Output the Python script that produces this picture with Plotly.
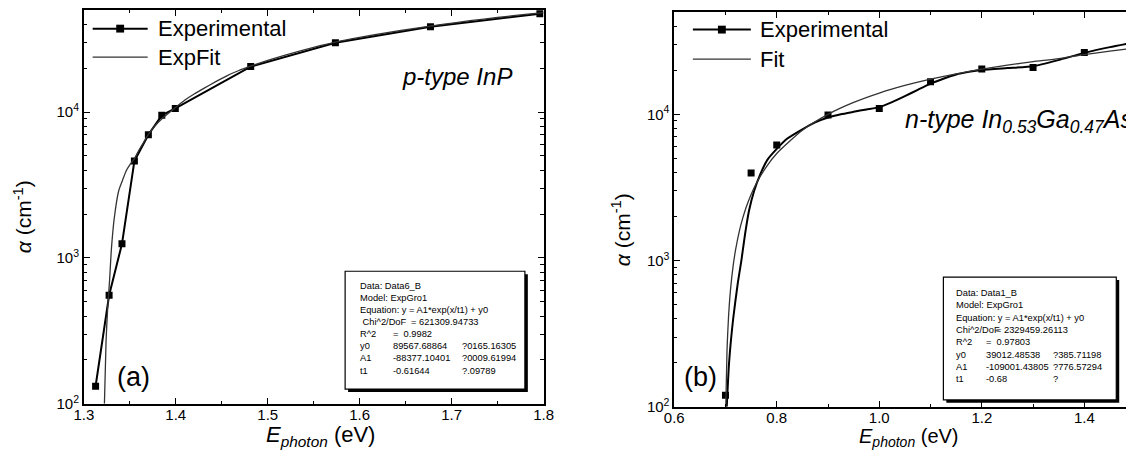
import plotly.graph_objects as go

W, H = 1134, 451
F = "Liberation Sans, Arial, sans-serif"


def px(x):
    return x / W


def py(y):
    return 1 - y / H


# ---------------- data: panel (a) p-type InP ----------------
exp_a_x = [1.3128, 1.3275, 1.3415, 1.3550, 1.3702, 1.3848, 1.3995, 1.4815, 1.5736, 1.6770, 1.7960]
exp_a_y = [132, 555, 1250, 4620, 7000, 9500, 10600, 20500, 29900, 38500, 47300]

fit_a_x = [1.3224, 1.3242, 1.3260, 1.3280, 1.3300, 1.3330, 1.3380, 1.3420, 1.3460, 1.3500,
           1.3550, 1.3600, 1.3650, 1.3700, 1.3770, 1.3850, 1.3920, 1.4000, 1.4100, 1.4200,
           1.4310, 1.4430, 1.4560, 1.4680, 1.4820, 1.5000, 1.5200, 1.5500, 1.5750, 1.6000,
           1.6300, 1.6600, 1.6900, 1.7200, 1.7500, 1.7800, 1.8000]
fit_a_y = [100, 270, 460, 700, 1150, 1850, 2900, 3400, 3950, 4350,
           4800, 5500, 6200, 7000, 8000, 9000, 9800, 10800, 12100, 13300,
           14600, 16100, 17800, 19200, 20700, 22600, 24700, 27800, 30300, 32500,
           35000, 37500, 39900, 42300, 44500, 46700, 48000]

# ---------------- data: panel (b) n-type InGaAs ----------------
exp_b_x = [0.70, 0.75, 0.80, 0.90, 1.00, 1.10, 1.20, 1.30, 1.40]
exp_b_y = [120, 3970, 6160, 9890, 10970, 16700, 20400, 20900, 26500]

exp_b_curve_x = [0.7025, 0.707, 0.715, 0.724, 0.731, 0.738, 0.746, 0.756, 0.768, 0.782,
                 0.800, 0.820, 0.850, 0.875, 0.900, 0.925, 0.950, 0.975,
                 1.000, 1.025, 1.050, 1.075, 1.100, 1.125, 1.150, 1.175, 1.200, 1.250,
                 1.300, 1.350, 1.400, 1.450, 1.493]
exp_b_curve_y = [100, 200, 400, 700, 1000, 1500, 2200, 3000, 3900, 4900,
                 5800, 6800, 7900, 8800, 9500, 10000, 10400, 10800,
                 11200, 12100, 13300, 14700, 16200, 17500, 18700, 19500, 20100, 20700,
                 21300, 23500, 26300, 28800, 30800]

fit_b_x = [0.7006, 0.703, 0.706, 0.710, 0.715, 0.720, 0.730, 0.740, 0.750, 0.760,
           0.780, 0.800, 0.850, 0.900, 0.950, 1.000, 1.050, 1.100, 1.150, 1.200,
           1.250, 1.300, 1.350, 1.400, 1.450, 1.493]
fit_b_y = [100, 245, 416, 643, 923, 1201, 1754, 2298, 2833, 3362,
           4395, 5398, 7783, 9994, 12052, 13966, 15740, 17391, 18925, 20349,
           21669, 22902, 24042, 25600, 27000, 28300]

y_major = [100, 1000, 10000]
y_major_text = ["10<sup>2</sup>", "10<sup>3</sup>", "10<sup>4</sup>"]
y_minor = [200, 300, 400, 500, 600, 700, 800, 900,
           2000, 3000, 4000, 5000, 6000, 7000, 8000, 9000,
           20000, 30000, 40000, 50000]

legend_a = ["Experimental", "ExpFit"]
legend_b = ["Experimental", "Fit"]

info_a_rows = [
    ["Data: Data6_B", "", ""],
    ["Model: ExpGro1", "", ""],
    ["Equation: y = A1*exp(x/t1) + y0", "", ""],
    [" Chi^2/DoF", "= 621309.94733", ""],
    ["R^2", "=  0.9982", ""],
    ["y0", "89567.68864", "?0165.16305"],
    ["A1", "-88377.10401", "?0009.61994"],
    ["t1", "-0.61644", "?.09789"],
]
info_b_rows = [
    ["Data: Data1_B", "", ""],
    ["Model: ExpGro1", "", ""],
    ["Equation: y = A1*exp(x/t1) + y0", "", ""],
    ["Chi^2/DoF", "= 2329459.26113", ""],
    ["R^2", "=  0.97803", ""],
    ["y0", "39012.48538", "?385.71198"],
    ["A1", "-109001.43805", "?776.57294"],
    ["t1", "-0.68", "?"],
]

fig = go.Figure()

# panel (a)
fig.add_trace(go.Scatter(x=exp_a_x, y=exp_a_y, mode="lines+markers", name=legend_a[0],
                         showlegend=False,
                         line=dict(color="black", width=2),
                         marker=dict(symbol="square", size=7, color="black"),
                         xaxis="x", yaxis="y"))
fig.add_trace(go.Scatter(x=fit_a_x, y=fit_a_y, mode="lines", name=legend_a[1], showlegend=False,
                         line=dict(color="#333333", width=1.3, shape="spline", smoothing=0.6),
                         xaxis="x", yaxis="y"))

# panel (b)
fig.add_trace(go.Scatter(x=exp_b_curve_x, y=exp_b_curve_y, mode="lines", showlegend=False,
                         name=legend_b[0],
                         line=dict(color="black", width=2, shape="spline", smoothing=0.5),
                         xaxis="x2", yaxis="y2"))
fig.add_trace(go.Scatter(x=exp_b_x, y=exp_b_y, mode="markers", showlegend=False,
                         name=legend_b[0],
                         marker=dict(symbol="square", size=7, color="black"),
                         xaxis="x2", yaxis="y2"))
fig.add_trace(go.Scatter(x=fit_b_x, y=fit_b_y, mode="lines", name=legend_b[1], showlegend=False,
                         line=dict(color="#333333", width=1.3, shape="spline", smoothing=0.6),
                         xaxis="x2", yaxis="y2"))

common_x = dict(showgrid=False, zeroline=False, showline=True, linecolor="black", linewidth=1.5,
                ticks="inside", ticklen=6, tickwidth=1.3, tickcolor="black",
                tickfont=dict(family=F, size=15, color="black"), tickformat=".1f",
                ticklabelstandoff=-4)
common_y = dict(type="log", showgrid=False, zeroline=False, showline=True, linecolor="black",
                linewidth=1.5, ticks="inside", ticklen=6, tickwidth=1.3, tickcolor="black",
                tickmode="array", tickvals=y_major, ticktext=y_major_text,
                tickfont=dict(family=F, size=15, color="black"),
                minor=dict(tickmode="array", tickvals=y_minor, ticks="inside", ticklen=3.5,
                           tickwidth=1, tickcolor="black"),
                range=[2, 4.70])

fig.update_layout(
    width=W, height=H,
    margin=dict(l=0, r=0, t=0, b=0),
    paper_bgcolor="white", plot_bgcolor="white",
    font=dict(family=F, color="black"),
    showlegend=False,
    xaxis=dict(domain=[px(67), px(535)], anchor="y", range=[1.3, 1.8], tick0=1.3, dtick=0.1,
               mirror="ticks",
               minor=dict(dtick=0.05, ticks="inside", ticklen=3.5, tickwidth=1, tickcolor="black"),
               **common_x),
    yaxis=dict(domain=[py(403), py(2)], anchor="x", mirror="ticks", **common_y),
    xaxis2=dict(domain=[px(668), 1.0], anchor="y2", range=[0.6, 1.493], tick0=0.6, dtick=0.2,
                mirror="ticks",
                minor=dict(dtick=0.1, ticks="inside", ticklen=3.5, tickwidth=1, tickcolor="black"),
                **common_x),
    yaxis2=dict(domain=[py(406), py(4)], anchor="x2", mirror=False, **common_y),
)

ann = []
shapes = []

# axis titles
ann.append(dict(text="<i>E</i><sub><i>photon</i></sub> (eV)", x=px(308), y=py(436),
                xanchor="center", yanchor="middle", font=dict(size=22)))
ann.append(dict(text="<i>E</i><sub><i>photon</i></sub> (eV)", x=px(907), y=py(437),
                xanchor="center", yanchor="middle", font=dict(size=20)))
ann.append(dict(text="<i>α</i> (cm<sup>-1</sup>)", x=px(5), y=py(212), textangle=-90,
                xanchor="center", yanchor="middle", font=dict(size=21)))
ann.append(dict(text="<i>α</i> (cm<sup>-1</sup>)", x=px(614), y=py(226), textangle=-90,
                xanchor="center", yanchor="middle", font=dict(size=21)))
# labels
ann.append(dict(text="<i>p-type InP</i>", x=px(505), y=py(70), xanchor="right", yanchor="middle",
                font=dict(size=24)))
ann.append(dict(text="<i>n-type In<sub>0.53</sub>Ga<sub>0.47</sub>As</i>", x=px(901), y=py(115),
                xanchor="left", yanchor="middle", font=dict(size=25)))
ann.append(dict(text="(a)", x=px(99), y=py(376), xanchor="left", yanchor="middle",
                font=dict(size=27)))
ann.append(dict(text="(b)", x=px(676), y=py(376), xanchor="left", yanchor="middle",
                font=dict(size=27)))


def manual_legend(x0, x1, xt, y1, y2, names, fs):
    # row 1: experimental (thick line + square)
    shapes.append(dict(type="line", xref="paper", yref="paper", x0=px(x0), x1=px(x1),
                       y0=py(y1), y1=py(y1), line=dict(color="black", width=2)))
    xm = (x0 + x1) / 2
    shapes.append(dict(type="rect", xref="paper", yref="paper", x0=px(xm - 4), x1=px(xm + 4),
                       y0=py(y1 + 4), y1=py(y1 - 4), fillcolor="black", line=dict(width=0)))
    # row 2: fit (thin line)
    shapes.append(dict(type="line", xref="paper", yref="paper", x0=px(x0), x1=px(x1),
                       y0=py(y2), y1=py(y2), line=dict(color="#333333", width=1.3)))
    ann.append(dict(text=names[0], x=px(xt), y=py(y1), xanchor="left", yanchor="middle",
                    font=dict(size=fs)))
    ann.append(dict(text=names[1], x=px(xt), y=py(y2), xanchor="left", yanchor="middle",
                    font=dict(size=fs)))


manual_legend(76, 132, 140, 21, 50, legend_a, 22)
manual_legend(687, 746, 753, 22, 52, legend_b, 22)


def info_box(x0, y0, x1, y1, rows, cols, line_y0, dy, special):
    shapes.append(dict(type="rect", xref="paper", yref="paper", x0=px(x0 + 3), x1=px(x1 + 3),
                       y0=py(y1 + 3), y1=py(y0 + 3), fillcolor="black", line=dict(width=0)))
    shapes.append(dict(type="rect", xref="paper", yref="paper", x0=px(x0), x1=px(x1),
                       y0=py(y1), y1=py(y0), fillcolor="white", line=dict(color="black", width=1.2)))
    for i, row in enumerate(rows):
        yy = line_y0 + i * dy
        for j, txt in enumerate(row):
            if not txt:
                continue
            xx = special.get((i, j), cols[j])
            ann.append(dict(text=txt, x=px(xx), y=py(yy), xanchor="left",
                            yanchor="middle", font=dict(size=9.3, family=F, color="black")))


info_box(333, 268, 516, 388, info_a_rows, [346, 380, 450], 283, 12.3,
         {(3, 1): 398})
info_box(942, 274, 1118, 399, info_b_rows, [953, 983, 1052], 290, 12.6,
         {(3, 1): 994})

for a in ann:
    a.setdefault("xref", "paper")
    a.setdefault("yref", "paper")
    a.setdefault("showarrow", False)

fig.update_layout(annotations=ann, shapes=shapes)
fig.write_html("out.html")
